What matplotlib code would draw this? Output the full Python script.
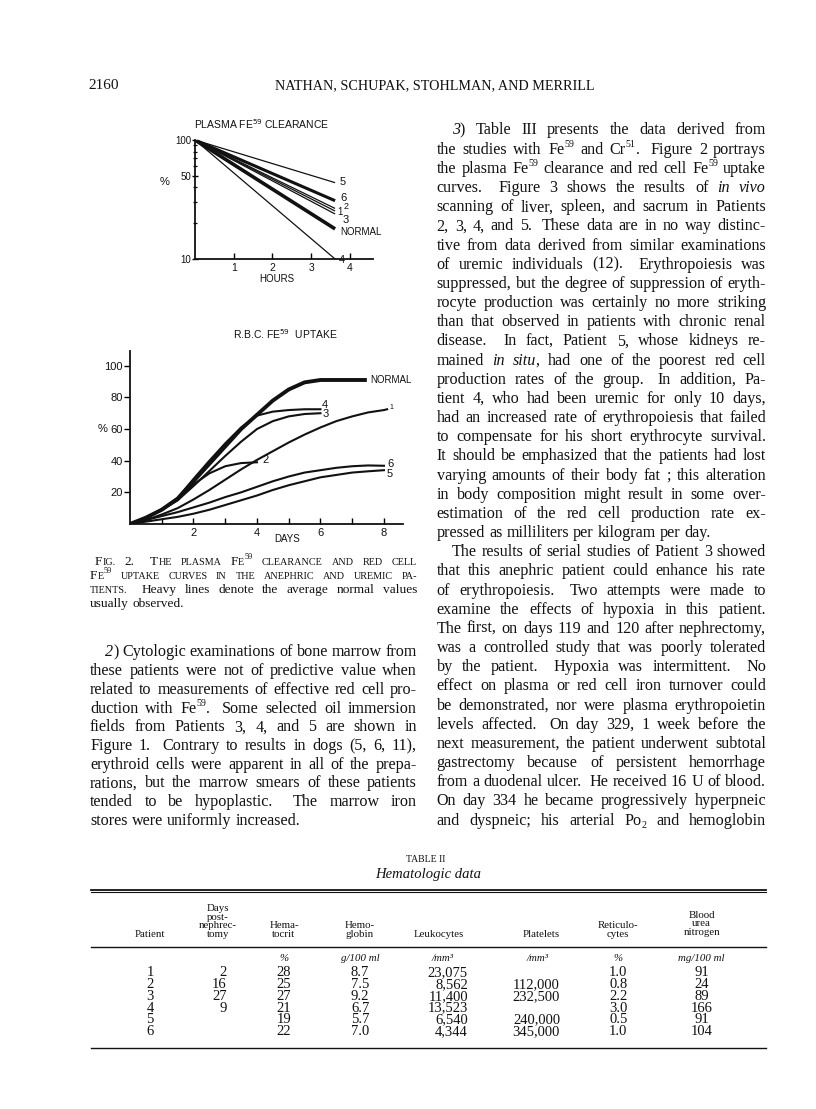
import matplotlib.pyplot as plt
from matplotlib.ticker import LogLocator, NullFormatter, FixedLocator

W, H = 816, 1109
SERIF = 'Liberation Serif'
SANS = 'Liberation Sans'
INK = '#111111'

# ---- Fig. 2 top: plasma Fe59 clearance (% vs hours, log scale) ----
clear_labels = ['5', '6', '2', '1', '3', 'NORMAL', '4']
clear_hours = [0, 3.62]
clear_start = 100
clear_end = [43.8, 30.9, 26.6, 25.3, 23.9, 17.9, 10.0]

# ---- Fig. 2 bottom: R.B.C. Fe59 uptake (% vs days) ----
upt_labels = ['NORMAL', '4', '3', '1', '2', '6', '5']
upt_days = {
    'NORMAL': [0, .5, 1, 1.5, 2, 2.5, 3, 3.5, 4, 4.5, 5, 5.5, 6, 6.5, 7, 7.4],
    '4': [0, .5, 1, 1.5, 2, 2.5, 3, 3.5, 4, 4.5, 5, 5.5, 6],
    '3': [0, .5, 1, 1.5, 2, 2.5, 3, 3.5, 4, 4.5, 5, 5.5, 6],
    '1': [0, .5, 1, 1.5, 2, 2.5, 3, 3.5, 4, 4.5, 5, 5.5, 6, 6.5, 7, 7.5, 8, 8.1],
    '2': [0, .5, 1, 1.5, 2, 2.5, 3, 3.5, 4],
    '6': [0, .5, 1, 1.5, 2, 2.5, 3, 3.5, 4, 4.5, 5, 5.5, 6, 6.5, 7, 7.5, 8],
    '5': [0, .5, 1, 1.5, 2, 2.5, 3, 3.5, 4, 4.5, 5, 5.5, 6, 6.5, 7, 7.5, 8],
}
upt_pct = {
    'NORMAL': [0, 4, 9, 16, 27, 38, 49, 60, 69, 78, 85, 89.5, 91, 91, 91, 91],
    '4': [0, 4, 9.5, 16.5, 28.5, 40, 51, 61, 68.5, 71, 72, 72.5, 72.5],
    '3': [0, 4, 9, 15, 24, 33.5, 43, 52, 60, 65, 68, 69.5, 70],
    '1': [0, 2.5, 6, 10, 15.5, 21.5, 28, 34.5, 40.5, 46, 51.5, 56.5, 61, 65, 68, 70.5, 72, 72.5],
    '2': [0, 4, 9, 15, 25, 32, 36.5, 38.5, 39],
    '6': [0, 2.5, 5, 7.5, 10.5, 13.5, 17, 20, 23.5, 27, 30, 32.5, 34, 35.5, 36.5, 37, 36.8],
    '5': [0, 1.5, 3, 4.5, 6.5, 9, 12, 15, 18, 21.5, 24.5, 27, 29.5, 31, 32.5, 33.3, 34],
}

# ---- Table II ----
tab_patient = ['1', '2', '3', '4', '5', '6']
tab_days = ['2', '16', '27', '9', '', '']
tab_hct = ['28', '25', '27', '21', '19', '22']
tab_hb = ['8.7', '7.5', '9.2', '6.7', '5.7', '7.0']
tab_wbc = ['23,075', '8,562', '11,400', '13,523', '6,540', '4,344']
tab_plt = ['', '112,000', '232,500', '', '240,000', '345,000']
tab_retic = ['1.0', '0.8', '2.2', '3.0', '0.5', '1.0']
tab_bun = ['91', '24', '89', '166', '91', '104']
tab_heads = [['Patient'], ['Days', 'post-', 'nephrec-', 'tomy'], ['Hema-', 'tocrit'],
             ['Hemo-', 'globin'], ['Leukocytes'], ['Platelets'], ['Reticulo-', 'cytes'],
             ['Blood', 'urea', 'nitrogen']]
tab_units = ['', '', '%', 'g/100 ml', '/mm\u00b3', '/mm\u00b3', '%', 'mg/100 ml']

# ---- page text ----
caption = [
    '~Fig. ~2. ~The ~plasma ~Fe^{59} ~clearance ~and ~red ~cell',
    '~Fe^{59} ~uptake ~curves ~in ~the ~anephric ~and ~uremic ~pa-',
    '~tients. Heavy lines denote the average normal values',
    'usually observed.',
]
left_par = [
    '*2*) Cytologic examinations of bone marrow from',
    'these patients were not of predictive value when',
    'related to measurements of effective red cell pro-',
    'duction with Fe^{59}. Some selected oil immersion',
    'fields from Patients 3, 4, and 5 are shown in',
    'Figure 1. Contrary to results in dogs (5, 6, 11),',
    'erythroid cells were apparent in all of the prepa-',
    'rations, but the marrow smears of these patients',
    'tended to be hypoplastic. The marrow iron',
    'stores were uniformly increased.',
]
right_col = [
    '*3*) Table III presents the data derived from',
    'the studies with Fe^{59} and Cr^{51}. Figure 2 portrays',
    'the plasma Fe^{59} clearance and red cell Fe^{59} uptake',
    'curves. Figure 3 shows the results of *in* *vivo*',
    'scanning of liver, spleen, and sacrum in Patients',
    '2, 3, 4, and 5. These data are in no way distinc-',
    'tive from data derived from similar examinations',
    'of uremic individuals (12). Erythropoiesis was',
    'suppressed, but the degree of suppression of eryth-',
    'rocyte production was certainly no more striking',
    'than that observed in patients with chronic renal',
    'disease. In fact, Patient 5, whose kidneys re-',
    'mained *in* *situ*, had one of the poorest red cell',
    'production rates of the group. In addition, Pa-',
    'tient 4, who had been uremic for only 10 days,',
    'had an increased rate of erythropoiesis that failed',
    'to compensate for his short erythrocyte survival.',
    'It should be emphasized that the patients had lost',
    'varying amounts of their body fat ; this alteration',
    'in body composition might result in some over-',
    'estimation of the red cell production rate ex-',
    'pressed as milliliters per kilogram per day.',
    'The results of serial studies of Patient 3 showed',
    'that this anephric patient could enhance his rate',
    'of erythropoiesis. Two attempts were made to',
    'examine the effects of hypoxia in this patient.',
    'The first, on days 119 and 120 after nephrectomy,',
    'was a controlled study that was poorly tolerated',
    'by the patient. Hypoxia was intermittent. No',
    'effect on plasma or red cell iron turnover could',
    'be demonstrated, nor were plasma erythropoietin',
    'levels affected. On day 329, 1 week before the',
    'next measurement, the patient underwent subtotal',
    'gastrectomy because of persistent hemorrhage',
    'from a duodenal ulcer. He received 16 U of blood.',
    'On day 334 he became progressively hyperpneic',
    'and dyspneic; his arterial Po_{2} and hemoglobin',
]

fig = plt.figure(figsize=(W / 100, H / 100), dpi=100)
fig.patch.set_facecolor('white')
R = fig.canvas.get_renderer()

_wcache = {}


def twidth(s, size, italic):
    key = (s, size, italic)
    if key not in _wcache:
        t = fig.text(0, 0, s, fontsize=size, family=SERIF,
                     style='italic' if italic else 'normal')
        _wcache[key] = t.get_window_extent(R).width
        t.remove()
    return _wcache[key]


def parse_word(word, size):
    segs = []
    small = word.startswith('~')
    if small:
        word = word[1:]
    state = {'it': False, 'buf': ''}

    def flush():
        buf = state['buf']
        if not buf:
            return
        if small:
            groups = []
            for ch in buf:
                if not ch.isalnum() and groups:
                    groups[-1][0] += ch
                    continue
                big = not ch.islower()
                if groups and groups[-1][1] == big:
                    groups[-1][0] += ch.upper()
                else:
                    groups.append([ch.upper(), big])
            for txt, big in groups:
                segs.append((txt, size if big else round(size * 0.76, 2), state['it'], 0))
        else:
            segs.append((buf, size, state['it'], 0))
        state['buf'] = ''

    i = 0
    while i < len(word):
        ch = word[i]
        if ch == '*':
            flush()
            state['it'] = not state['it']
            i += 1
        elif ch in '^_' and i + 1 < len(word) and word[i + 1] == '{':
            flush()
            j = word.index('}', i)
            px = size * 100 / 72
            rise = px * 0.42 if ch == '^' else -px * 0.2
            segs.append((word[i + 2:j], round(size * 0.62, 2), False, rise))
            i = j + 1
        else:
            state['buf'] += ch
            i += 1
    flush()
    return segs


def draw_line(line, x0, x1, y, size, justify=True):
    words = line.split()
    parsed = [parse_word(w, size) for w in words]
    widths = [sum(twidth(s, sz, it) for s, sz, it, r in sg) for sg in parsed]
    weights = []
    for a, b in zip(words[:-1], words[1:]):
        b0 = b.lstrip('~*')[:1]
        weights.append(1.7 if a.rstrip('*').endswith(('.', '),')) and b0.isupper() else 1.0)
    space = twidth('a a', size, False) - twidth('aa', size, False)
    if justify and weights:
        unit = (x1 - x0 - sum(widths)) / sum(weights)
    else:
        unit = space
    x = x0
    for k, sg in enumerate(parsed):
        for s, sz, it, r in sg:
            fig.text(x / W, 1 - (y - r) / H, s, fontsize=sz, family=SERIF,
                     style='italic' if it else 'normal', color=INK,
                     ha='left', va='baseline')
            x += twidth(s, sz, it)
        if k < len(weights):
            x += unit * weights[k]


def ftext(x, y, s, **kw):
    kw.setdefault('color', INK)
    return fig.text(x / W, 1 - y / H, s, **kw)


BODY = 11.6

# running head
ftext(88, 89, '2160', fontsize=11, family=SERIF, va='baseline')
ftext(434.5, 89, 'NATHAN, SCHUPAK, STOHLMAN, AND MERRILL', fontsize=10.2,
      family=SERIF, ha='center', va='baseline')

# body text, right column
for i, line in enumerate(right_col):
    first = i in (0, 22)
    draw_line(line, 451.7 if first else 436.7, 766, 134.5 + 19.17 * i, BODY,
              justify=(i != 21))

# caption + left paragraph
for i, line in enumerate(caption):
    draw_line(line, 95 if i == 0 else 90, 417, 565 + 14 * i, 9.6,
              justify=(i != len(caption) - 1))
for i, line in enumerate(left_par):
    draw_line(line, 105 if i == 0 else 90, 417, 656.5 + 18.7 * i, BODY,
              justify=(i != len(left_par) - 1))


# ---- plot 1: plasma clearance ----
def ax_rect(x0, y0, x1, y1):
    return [x0 / W, 1 - y1 / H, (x1 - x0) / W, (y1 - y0) / H]


ax1 = fig.add_axes(ax_rect(195, 140, 373, 259))
clear_lw = [0.9, 2.2, 0.9, 0.9, 0.9, 2.6, 0.9]
clear_off = [(5, 1), (5, 3), (8, 2), (2, -1), (7, -6), (5, -3), (4, -1)]
clear_fs = [8, 8, 6.5, 7, 8, 7, 8]
for lab, end, lw, off, fs in zip(clear_labels, clear_end, clear_lw, clear_off, clear_fs):
    ax1.plot(clear_hours, [clear_start, end], color=INK, lw=lw, solid_capstyle='butt')
    ax1.annotate(lab, (clear_hours[-1], end), xytext=off, textcoords='offset pixels',
                 fontsize=fs, family=SANS, color=INK, ha='left', va='center')
ax1.set_yscale('log')
ax1.set_xlim(0, 4.6)
ax1.set_ylim(10, 100)
ax1.set_yticks([10, 50, 100])
ax1.set_yticklabels(['10', '50', '100'])
ax1.yaxis.set_minor_locator(LogLocator(subs=range(2, 10)))
ax1.yaxis.set_minor_formatter(NullFormatter())
ax1.set_xticks([1, 2, 3, 4])
ax1.tick_params(axis='y', which='major', direction='inout', length=5, width=1, pad=0,
                labelsize=7)
ax1.tick_params(axis='y', which='minor', direction='inout', length=3.5, width=0.9)
ax1.tick_params(axis='x', direction='in', length=4, width=1, pad=3, labelsize=7.5)

# ---- plot 2: RBC uptake ----
ax2 = fig.add_axes(ax_rect(130, 351.5, 403, 524))
upt_lw = {'NORMAL': 2.8}
upt_off = {'NORMAL': (5, 0), '4': (1, 4), '3': (2, -1), '1': (2, 2), '2': (5, 2),
           '6': (3, 2), '5': (3, -4)}
for lab in upt_labels:
    d, p = upt_days[lab], upt_pct[lab]
    ax2.plot(d, p, color=INK, lw=upt_lw.get(lab, 1.5), solid_joinstyle='round')
    ax2.annotate(lab, (d[-1], p[-1]), xytext=upt_off[lab], textcoords='offset pixels',
                 fontsize=8 if lab not in ('NORMAL', '1') else (7 if lab == 'NORMAL' else 5),
                 family=SANS, color=INK, ha='left', va='center')
ax2.set_xlim(0, 8.6)
ax2.set_ylim(0, 109)
ax2.set_xticks([2, 4, 6, 8])
ax2.xaxis.set_minor_locator(FixedLocator([1, 3, 5, 7]))
ax2.set_yticks([20, 40, 60, 80, 100])
ax2.tick_params(axis='x', which='both', direction='in', length=4, width=1, pad=3,
                labelsize=8)
ax2.tick_params(axis='y', direction='out', length=4, width=1, pad=1, labelsize=8)

for ax in (ax1, ax2):
    ax.patch.set_alpha(0)
    for sp in ('top', 'right'):
        ax.spines[sp].set_visible(False)
    for sp in ('left', 'bottom'):
        ax.spines[sp].set_linewidth(1.3)
        ax.spines[sp].set_color(INK)
    for lab in ax.get_xticklabels() + ax.get_yticklabels():
        lab.set_family(SANS)
        lab.set_color(INK)

ftext(262, 129, 'PLASMA FE$^{59}$ CLEARANCE', fontsize=7.5, family=SANS, ha='center',
      va='baseline')
ftext(165, 185, '%', fontsize=8, family=SANS, ha='center', va='baseline')
ftext(277, 282, 'HOURS', fontsize=7, family=SANS, ha='center', va='baseline')
ftext(285, 339, 'R.B.C. FE$^{59}$  UPTAKE', fontsize=7.5, family=SANS, ha='center',
      va='baseline')
ftext(103, 432, '%', fontsize=8, family=SANS, ha='center', va='baseline')
ftext(287, 542, 'DAYS', fontsize=7, family=SANS, ha='center', va='baseline')

# ---- Table II ----
ftext(426, 862, 'TABLE II', fontsize=7, family=SERIF, ha='center', va='baseline')
ftext(428, 878, 'Hematologic data', fontsize=10.5, family=SERIF, style='italic',
      ha='center', va='baseline')
fig.add_artist(plt.Line2D([91 / W, 766 / W], [1 - 889.5 / H] * 2, color=INK, lw=1.3))
fig.add_artist(plt.Line2D([91 / W, 766 / W], [1 - 892 / H] * 2, color=INK, lw=0.8))
fig.add_artist(plt.Line2D([91 / W, 766 / W], [1 - 946.7 / H] * 2, color=INK, lw=1.0))
fig.add_artist(plt.Line2D([91 / W, 766 / W], [1 - 1048 / H] * 2, color=INK, lw=1.0))

head_x = [150, 218, 284, 360, 439, 541.7, 618.3, 701.7]
head_base = [937, 937, 937, 937, 937, 937, 937, 935]
for hx, hb, lines in zip(head_x, head_base, tab_heads):
    for k, s in enumerate(reversed(lines)):
        ftext(hx, hb - 8.6 * k, s, fontsize=7.8, family=SERIF, ha='center', va='baseline')
unit_x = [150, 218, 284, 360, 443, 537, 618.3, 701.7]
for ux, u in zip(unit_x, tab_units):
    if u:
        ftext(ux, 961, u, fontsize=7.8, family=SERIF, style='italic', ha='center',
              va='baseline')

cols = [(tab_patient, 150, 'center'), (tab_days, 226.7, 'right'), (tab_hct, 284, 'center'),
        (tab_hb, 360, 'center'), (tab_wbc, 468, 'right'), (tab_plt, 560, 'right'),
        (tab_retic, 618.3, 'center'), (tab_bun, 701.7, 'center')]
for vals, cx, ha in cols:
    for r, v in enumerate(vals):
        if v:
            ftext(cx, 976.2 + 11.8 * r, v, fontsize=10.5, family=SERIF, ha=ha, va='baseline')

fig.savefig('out.png', dpi=100, facecolor='white')
